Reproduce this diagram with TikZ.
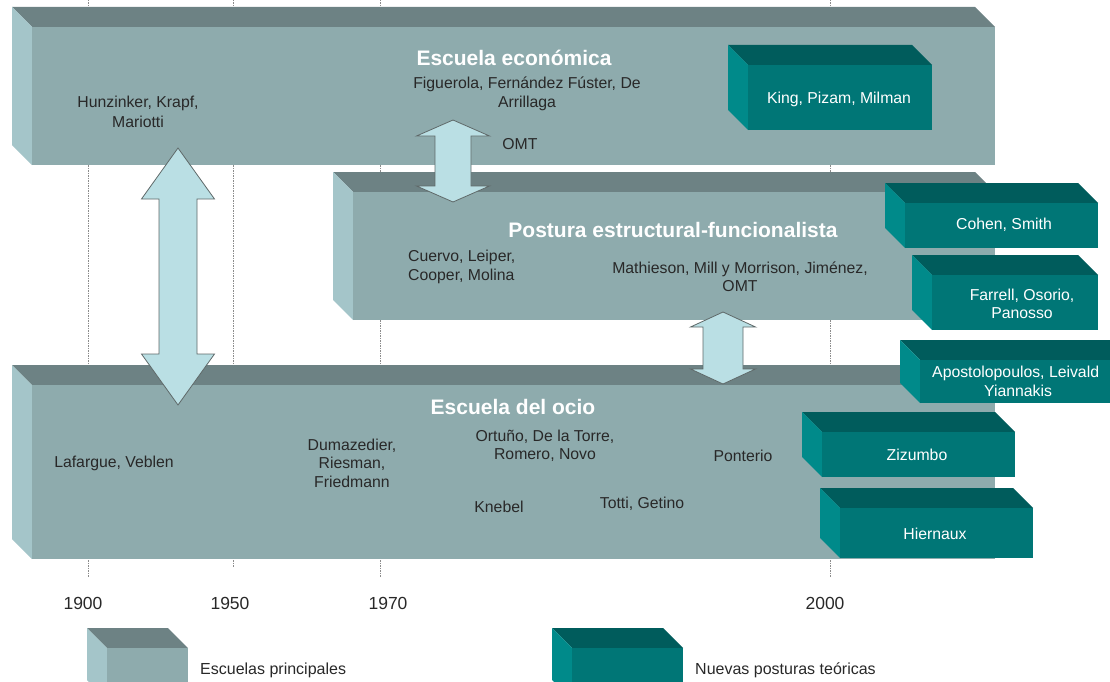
\documentclass[tikz,border=0pt]{standalone}
\usepackage{fontspec}
\setmainfont{Liberation Sans}
\usepackage{tikz}

\definecolor{slabfront}{RGB}{142,171,173}
\definecolor{slabtop}{RGB}{109,130,132}
\definecolor{slabside}{RGB}{164,197,201}
\definecolor{tealfront}{RGB}{0,118,118}
\definecolor{tealtop}{RGB}{0,92,92}
\definecolor{tealside}{RGB}{0,138,138}
\definecolor{arrowfill}{RGB}{186,223,228}
\definecolor{arrowline}{RGB}{95,105,105}
\definecolor{ink}{RGB}{40,40,40}

% 3d block: colour set, front face x1, y1, x2, y2
\newcommand{\slab}[5]{
    \fill[#1top] (#2-20,#3-20) -- (#4-20,#3-20) -- (#4,#3) -- (#2,#3) -- cycle;
    \fill[#1side] (#2-20,#3-20) -- (#2,#3) -- (#2,#5) -- (#2-20,#5-20) -- cycle;
    \fill[#1front] (#2,#3) rectangle (#4,#5);
}
% up-down block arrow: x, top tip, bottom tip, shaft half, head half, head length
\newcommand{\updown}[6]{
    \filldraw[pointer] (#1,#2) -- (#1+#5,#2+#6) -- (#1+#4,#2+#6) -- (#1+#4,#3-#6)
        -- (#1+#5,#3-#6) -- (#1,#3) -- (#1-#5,#3-#6) -- (#1-#4,#3-#6)
        -- (#1-#4,#2+#6) -- (#1-#5,#2+#6) -- cycle;
}

\begin{document}
\begin{tikzpicture}[x=1pt, y=-1pt,
        names/.style={font=\fontsize{15.8}{18.5}\selectfont, text=ink, align=center, inner sep=0pt},
        newnames/.style={names, text=white},
        heading/.style={font=\fontsize{21}{24}\selectfont\bfseries, text=white, inner sep=0pt},
        year/.style={font=\fontsize{17.5}{20}\selectfont, text=ink, inner sep=0pt},
        legend/.style={font=\fontsize{16}{19}\selectfont, text=ink, anchor=west, inner sep=0pt},
        timeline/.style={draw=black!45, line width=0.6pt, dash pattern=on 1.5pt off 1pt},
        pointer/.style={fill=arrowfill, draw=arrowline, line width=0.8pt},
    ]
    \useasboundingbox (0,0) rectangle (1110,682);
    \clip (0,0) rectangle (1110,682);

    % time axis
    \foreach \yr/\lx/\tx/\ly in {1900/88/83/577, 1950/233/230/567, 1970/380/388/577, 2000/830/825/577} {
        \draw[timeline] (\lx,0) -- (\lx,\ly);
        \node[year] (y\yr) at (\tx,603) {\yr};
    }

    % main schools
    \slab{slab}{32}{27}{995}{165}
    \slab{slab}{353}{192}{995}{320}
    \slab{slab}{32}{385}{995}{559}

    % new positions
    \slab{teal}{748}{65}{932}{130}
    \slab{teal}{905}{203}{1098}{248}
    \slab{teal}{932}{275}{1098}{330}
    \slab{teal}{920}{360}{1130}{403}
    \slab{teal}{822}{432}{1015}{477}
    \slab{teal}{840}{508}{1033}{558}

    % links
    \updown{178}{148}{405}{19}{36.5}{51}
    \updown{453}{120}{202}{18}{36.5}{16}
    \updown{723}{312}{384}{20}{32.5}{15}

    % Escuela economica
    \node[heading] (eco) at (514,58) {Escuela económica};
    \node[names] (figuerola) at (527,94) {Figuerola, Fernández Fúster, De\\Arrillaga};
    \node[names] (omt1) at (520,144) {OMT};
    \node[names, font=\fontsize{15.8}{20}\selectfont] (hunzinker) at (138,112) {Hunzinker, Krapf,\\Mariotti};
    \node[newnames] (king) at (839,99) {King, Pizam, Milman};

    % Postura estructural-funcionalista
    \node[heading] (postura) at (673,230) {Postura estructural-funcionalista};
    \node[names, anchor=west, align=left] (cuervo) at (408,267) {Cuervo, Leiper,\\Cooper, Molina};
    \node[names] (mathieson) at (740,277) {Mathieson, Mill y Morrison, Jiménez,\\OMT};
    \node[newnames] (cohen) at (1004,225) {Cohen, Smith};
    \node[newnames] (farrell) at (1022,304) {Farrell, Osorio,\\Panosso};
    \node[newnames, anchor=west] (aposto) at (932,373) {Apostolopoulos, Leivald};
    \node[newnames] (yiannakis) at (1018,391) {Yiannakis};

    % Escuela del ocio
    \node[heading] (ocio) at (513,407) {Escuela del ocio};
    \node[names] (lafargue) at (114,463) {Lafargue, Veblen};
    \node[names] (dumazedier) at (352,463) {Dumazedier,\\Riesman,\\Friedmann};
    \node[names] (ortuno) at (545,446) {Ortuño, De la Torre,\\Romero, Novo};
    \node[names] (knebel) at (499,507) {Knebel};
    \node[names] (totti) at (642,504) {Totti, Getino};
    \node[names] (ponterio) at (743,456) {Ponterio};
    \node[newnames] (zizumbo) at (917,455) {Zizumbo};
    \node[newnames] (hiernaux) at (935,534) {Hiernaux};

    % legend
    \slab{slab}{107}{648}{188}{700}
    \node[legend] (principales) at (200,670) {Escuelas principales};
    \slab{teal}{572}{648}{683}{700}
    \node[legend] (nuevas) at (695,670) {Nuevas posturas teóricas};
\end{tikzpicture}
\end{document}
